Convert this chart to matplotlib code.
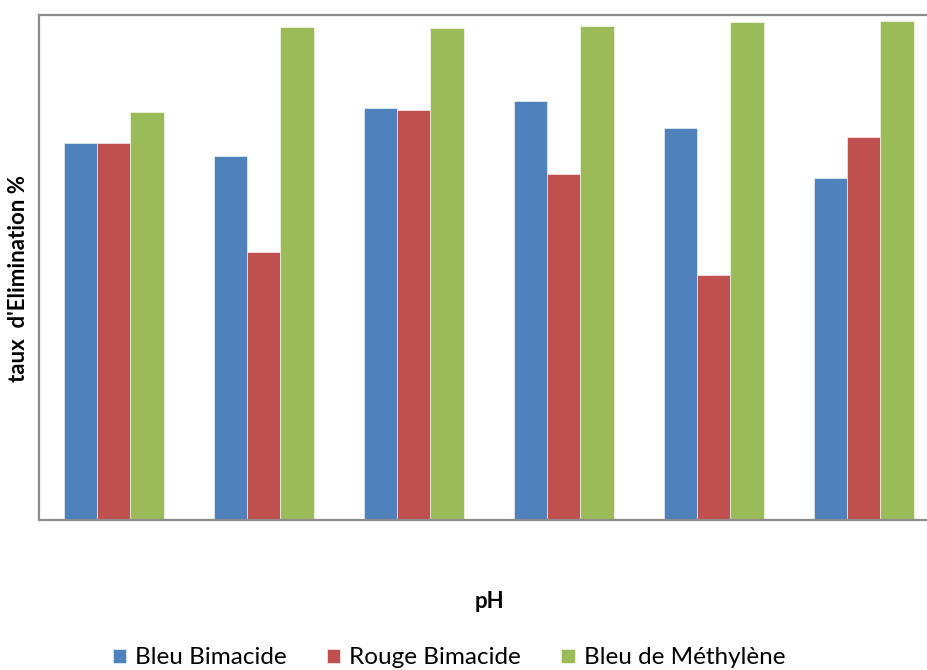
import numpy as np
import matplotlib
matplotlib.use("Agg")
import matplotlib.pyplot as plt

plt.rcParams['font.family'] = ['Lato', 'DejaVu Sans']

# pH groups (no tick labels shown in the original)
groups = ["1", "2", "3", "4", "5", "6"]
series_names = ["Bleu Bimacide", "Rouge Bimacide", "Bleu de Méthylène"]
bleu_bimacide = [74.6, 72.1, 81.5, 82.9, 77.5, 67.7]
rouge_bimacide = [74.5, 53.0, 81.2, 68.5, 48.5, 75.8]
bleu_methylene = [80.8, 97.5, 97.3, 97.7, 98.5, 98.7]
colors = ["#4F81BD", "#C0504D", "#9BBB59"]

W, H = 928, 670
fig = plt.figure(figsize=(W / 100, H / 100), dpi=100)
ax = fig.add_axes([38.5 / W, 1 - 520 / H, 900 / W, 505.5 / H])

x = np.arange(len(groups))
bw = 2 / 9
for i, (vals, name) in enumerate(zip([bleu_bimacide, rouge_bimacide, bleu_methylene], series_names)):
    ax.bar(x + (i - 1) * bw, vals, width=bw, color=colors[i], label=name,
           edgecolor="white", linewidth=0.4)

ax.set_xlim(-0.5, len(groups) - 0.5)
ax.set_ylim(0, 100)
ax.set_xticks([])
ax.set_yticks([])
for s in ax.spines.values():
    s.set_color("#8c8c8c")
    s.set_linewidth(1.6)

fig.text(19 / W, 1 - 279 / H, "taux  d'Elimination %", rotation=90, fontsize=16,
         fontweight="bold", ha="center", va="center")
fig.text(489 / W, 1 - 601 / H, "pH", fontsize=16, fontweight="bold",
         ha="center", va="center")

fig.legend(loc="center", bbox_to_anchor=(449 / W, 1 - 658 / H), ncol=3, frameon=False,
           fontsize=17.5, handlelength=0.55, handleheight=0.55, handletextpad=0.37,
           columnspacing=1.65, borderaxespad=0, borderpad=0)

fig.savefig("out.png", dpi=100)
